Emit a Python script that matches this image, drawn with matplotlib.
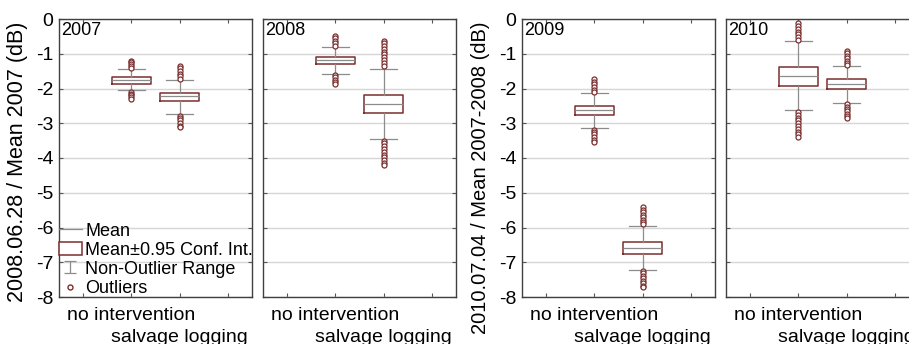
import matplotlib
matplotlib.use('Agg')
from matplotlib import pyplot as plt
from matplotlib.lines import Line2D
from matplotlib.patches import Patch
from matplotlib.path import Path

plt.rcParams['font.family'] = ['Liberation Sans', 'DejaVu Sans']
plt.rcParams['axes.unicode_minus'] = False

# Category labels and panel names
groups = ['no intervention', 'salvage logging']
years = ['2007', '2008', '2009', '2010']

# Mean, lower/upper 0.95 conf. int., non-outlier range (low, high) per panel
means = [[-1.76, -2.23], [-1.19, -2.44], [-2.63, -6.58], [-1.64, -1.86]]
ci_lo = [[-1.86, -2.36], [-1.30, -2.70], [-2.77, -6.76], [-1.92, -2.02]]
ci_hi = [[-1.66, -2.12], [-1.09, -2.19], [-2.51, -6.42], [-1.39, -1.73]]
rng_lo = [[-2.05, -2.72], [-1.57, -3.44], [-3.14, -7.21], [-2.63, -2.42]]
rng_hi = [[-1.45, -1.76], [-0.80, -1.44], [-2.14, -5.96], [-0.62, -1.35]]

# Outliers
outliers = [
    [[-1.20, -1.25, -1.30, -1.35, -1.40, -2.10, -2.15, -2.20, -2.25, -2.30],
     [-1.35, -1.42, -1.50, -1.58, -1.65, -1.72, -2.78, -2.85, -2.92, -3.00, -3.07, -3.12]],
    [[-0.48, -0.55, -0.62, -0.70, -0.77, -1.62, -1.68, -1.75, -1.82, -1.88],
     [-0.62, -0.70, -0.78, -0.86, -0.94, -1.02, -1.10, -1.18, -1.26, -1.34,
      -3.50, -3.58, -3.66, -3.74, -3.82, -3.90, -3.98, -4.06, -4.14, -4.20]],
    [[-1.73, -1.80, -1.88, -1.96, -2.04, -2.10, -3.18, -3.25, -3.32, -3.40, -3.47, -3.53],
     [-5.42, -5.49, -5.56, -5.63, -5.70, -5.77, -5.84, -5.91,
      -7.25, -7.32, -7.39, -7.46, -7.53, -7.60, -7.67, -7.72]],
    [[-0.12, -0.20, -0.28, -0.36, -0.44, -0.52, -0.60,
      -2.68, -2.76, -2.84, -2.92, -3.00, -3.08, -3.16, -3.24, -3.32, -3.40],
     [-0.92, -0.99, -1.06, -1.13, -1.20, -1.27, -1.33,
      -2.45, -2.52, -2.59, -2.66, -2.73, -2.80, -2.84]],
]

ylabels = ['2008.06.28 / Mean 2007 (dB)', '', '2010.07.04 / Mean 2007-2008 (dB)', '']

red = '#7a2e2e'
grey = '#8c8c8c'

fig = plt.figure(figsize=(9.09, 3.44), dpi=100)
lefts = [59, 263, 522, 726]

for i in range(4):
    ax = fig.add_axes([lefts[i] / 909, 47 / 344, 193 / 909, 278 / 344])

    stats = []
    for j in range(2):
        stats.append({'med': means[i][j], 'q1': ci_lo[i][j], 'q3': ci_hi[i][j],
                      'whislo': rng_lo[i][j], 'whishi': rng_hi[i][j],
                      'fliers': outliers[i][j]})

    ax.bxp(stats, positions=[2, 3], widths=0.8, capwidths=0.55,
           boxprops=dict(color=red, linewidth=1.1),
           medianprops=dict(color=grey, linewidth=0.9),
           whiskerprops=dict(color=grey, linewidth=0.9),
           capprops=dict(color=grey, linewidth=0.9),
           flierprops=dict(marker='o', markersize=3.6, markerfacecolor='white',
                           markeredgecolor=red, markeredgewidth=0.9),
           manage_ticks=False, zorder=3)

    ax.set_xlim(0.5, 4.5)
    ax.set_ylim(-8, 0)
    ax.set_xticks([1, 2, 3, 4])
    ax.set_xticklabels([])
    ax.set_yticks(range(-8, 1))
    ax.yaxis.grid(True, color='#d6d6d6', linewidth=1)
    ax.set_axisbelow(True)
    ax.tick_params(direction='in', length=3, top=True, right=True,
                   color='#555555', labelsize=14, pad=4)
    if i in (1, 3):
        ax.set_yticklabels([])

    # category labels, staggered on two lines
    trans = ax.get_xaxis_transform()
    ax.text(2, -0.035, groups[0], transform=trans, ha='center', va='top', fontsize=14)
    ax.text(3, -0.115, groups[1], transform=trans, ha='center', va='top', fontsize=14)

    for s in ax.spines.values():
        s.set_color('#404040')
        s.set_linewidth(1)
    ax.text(0.012, 0.99, years[i], transform=ax.transAxes, ha='left', va='top',
            fontsize=13)

    if i == 0:
        ax.set_ylabel(ylabels[i], fontsize=15.5)
        ax.yaxis.set_label_coords(-0.16, 0.485)
        cap = Path([(-1, 1), (1, 1), (0, 1), (0, -1), (-1, -1), (1, -1)],
                   [Path.MOVETO, Path.LINETO, Path.MOVETO, Path.LINETO,
                    Path.MOVETO, Path.LINETO])
        handles = [
            Line2D([], [], color=grey, linewidth=0.9),
            Patch(facecolor='white', edgecolor=red, linewidth=1.1),
            Line2D([], [], linestyle='none', marker=cap, markersize=9,
                   markeredgecolor=grey, markeredgewidth=0.9),
            Line2D([], [], linestyle='none', marker='o', markersize=3.6,
                   markerfacecolor='white', markeredgecolor=red),
        ]
        ax.legend(handles, ['Mean', 'Mean\u00b10.95 Conf. Int.', 'Non-Outlier Range', 'Outliers'],
                  loc='lower left', frameon=False, fontsize=13, borderaxespad=0,
                  borderpad=0.0, handlelength=1.25, handletextpad=0.2,
                  labelspacing=0.12, handleheight=0.75)
    if i == 2:
        ax.set_ylabel(ylabels[i], fontsize=14.5)
        ax.yaxis.set_label_coords(-0.165, 0.43)

fig.savefig('out.png', dpi=100)
